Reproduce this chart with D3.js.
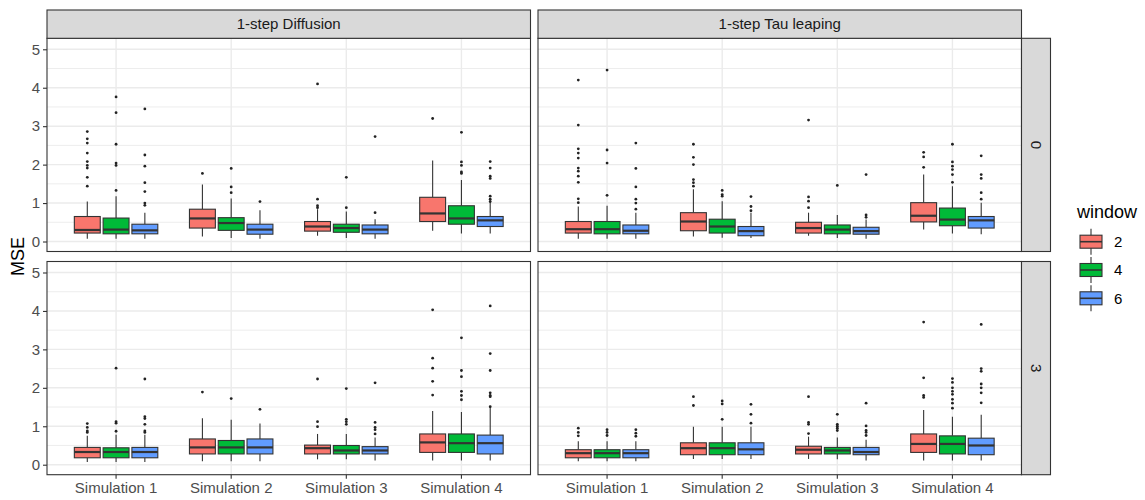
<!DOCTYPE html>
<html>
<head>
<meta charset="utf-8">
<script src="https://cdn.jsdelivr.net/npm/d3@7"></script>
<style>
  body { margin: 0; background: #fff; }
  text { font-family: "Liberation Sans", Arial, sans-serif; }
</style>
</head>
<body>
<script>
var simulations = ["Simulation 1", "Simulation 2", "Simulation 3", "Simulation 4"];
var windows = ["2", "4", "6"];
var methods = ["1-step Diffusion", "1-step Tau leaping"];
var lags = ["0", "3"];
var yTicks = [0, 1, 2, 3, 4, 5];
var colors = ["#F8766D", "#00BA38", "#619CFF"];

// [lower whisker, q1, median, q3, upper whisker], ordered sim1 w2, w4, w6, sim2 w2 ...
var diffusion0Box = [
  [0.07, 0.22, 0.30, 0.65, 1.04], [0.07, 0.20, 0.31, 0.61, 1.18], [0.07, 0.20, 0.29, 0.45, 0.75],
  [0.13, 0.35, 0.60, 0.84, 1.48], [0.09, 0.29, 0.48, 0.62, 1.12], [0.07, 0.19, 0.31, 0.45, 0.81],
  [0.15, 0.27, 0.39, 0.52, 0.84], [0.09, 0.24, 0.35, 0.45, 0.78], [0.07, 0.20, 0.31, 0.43, 0.58],
  [0.28, 0.52, 0.73, 1.15, 2.11], [0.21, 0.45, 0.60, 0.93, 1.60], [0.21, 0.39, 0.55, 0.65, 1.11]
];
var diffusion0Out = [
  [2.86, 2.67, 2.56, 2.30, 2.08, 1.98, 1.91, 1.67, 1.44],
  [3.76, 3.35, 2.53, 2.04, 1.98, 1.33],
  [3.45, 2.25, 1.96, 1.53, 1.30, 1.00, 0.94],
  [1.77],
  [1.90, 1.42, 1.27],
  [1.04],
  [4.10, 1.10, 0.93, 0.88],
  [1.67, 0.88],
  [2.73, 0.75],
  [3.20],
  [2.84, 2.07, 1.98, 1.81, 1.77],
  [2.08, 1.91, 1.70, 1.64, 1.18, 1.10, 1.04]
];
var tau0Box = [
  [0.07, 0.22, 0.32, 0.52, 0.91], [0.07, 0.20, 0.32, 0.52, 0.93], [0.07, 0.20, 0.28, 0.43, 0.75],
  [0.13, 0.28, 0.52, 0.75, 1.36], [0.10, 0.22, 0.39, 0.58, 1.05], [0.09, 0.15, 0.27, 0.39, 0.75],
  [0.15, 0.22, 0.35, 0.50, 0.75], [0.09, 0.20, 0.31, 0.43, 0.69], [0.07, 0.19, 0.27, 0.37, 0.57],
  [0.31, 0.51, 0.67, 1.01, 1.74], [0.21, 0.41, 0.57, 0.87, 1.44], [0.19, 0.35, 0.55, 0.65, 1.01]
];
var tau0Out = [
  [4.20, 3.03, 2.41, 2.30, 2.17, 1.91, 1.83, 1.70, 1.54, 1.11, 1.01],
  [4.46, 2.38, 2.04, 1.20],
  [2.56, 1.90, 1.42, 1.10, 1.00, 0.84],
  [2.53, 2.19, 2.00, 1.61, 1.53, 1.44],
  [1.33, 1.22, 1.18],
  [1.17, 0.91, 0.80],
  [3.16, 1.16, 1.05, 0.88],
  [1.46],
  [1.74, 0.69, 0.63],
  [2.32, 2.20, 1.93],
  [2.53, 2.07, 1.96, 1.87, 1.74, 1.54],
  [2.23, 1.74, 1.64, 1.27, 1.10]
];
var diffusion3Box = [
  [0.07, 0.18, 0.33, 0.45, 0.75], [0.07, 0.18, 0.33, 0.44, 0.78], [0.07, 0.18, 0.33, 0.45, 0.78],
  [0.09, 0.28, 0.45, 0.67, 1.21], [0.09, 0.28, 0.45, 0.63, 1.17], [0.09, 0.28, 0.45, 0.67, 1.07],
  [0.14, 0.28, 0.43, 0.51, 0.80], [0.14, 0.28, 0.37, 0.50, 0.80], [0.11, 0.28, 0.37, 0.47, 0.71],
  [0.11, 0.32, 0.58, 0.80, 1.40], [0.11, 0.32, 0.56, 0.80, 1.37], [0.11, 0.28, 0.56, 0.77, 1.51]
];
var diffusion3Out = [
  [1.07, 0.97, 0.88, 0.84],
  [2.51, 1.12, 1.08, 0.87],
  [2.23, 1.25, 1.20, 1.05, 0.88, 0.84],
  [1.89],
  [1.72],
  [1.44],
  [2.23, 1.12, 0.99],
  [1.98, 1.18, 1.12, 1.05],
  [2.13, 1.10, 0.97, 0.91, 0.80],
  [4.03, 2.77, 2.51, 2.17, 1.81],
  [3.30, 2.45, 2.29, 1.91, 1.80, 1.69],
  [4.13, 2.89, 2.45, 1.87, 1.80, 1.77, 1.51]
];
var tau3Box = [
  [0.09, 0.18, 0.30, 0.39, 0.61], [0.09, 0.18, 0.30, 0.39, 0.61], [0.09, 0.18, 0.30, 0.39, 0.61],
  [0.15, 0.26, 0.43, 0.57, 0.99], [0.15, 0.26, 0.43, 0.57, 0.99], [0.15, 0.26, 0.40, 0.57, 0.99],
  [0.15, 0.28, 0.39, 0.48, 0.73], [0.14, 0.28, 0.37, 0.45, 0.71], [0.11, 0.26, 0.33, 0.45, 0.65],
  [0.11, 0.32, 0.54, 0.80, 1.42], [0.11, 0.28, 0.54, 0.75, 1.25], [0.11, 0.26, 0.50, 0.69, 1.30]
];
var tau3Out = [
  [0.95, 0.84, 0.75],
  [0.91, 0.84, 0.76],
  [0.91, 0.82, 0.74],
  [1.77, 1.54],
  [1.66, 1.58, 1.18],
  [1.57, 1.31, 1.08],
  [1.77, 1.10, 1.05, 0.81],
  [1.31, 1.05, 1.00, 0.95, 0.89],
  [1.60, 1.01, 0.89, 0.84, 0.76],
  [3.71, 2.26, 1.80, 1.75],
  [2.24, 2.14, 2.00, 1.91, 1.83, 1.70, 1.60, 1.47],
  [3.65, 2.50, 2.43, 2.10, 2.00, 1.87, 1.61]
];

var panels = [
  {col: 0, row: 0, box: diffusion0Box, out: diffusion0Out},
  {col: 1, row: 0, box: tau0Box, out: tau0Out},
  {col: 0, row: 1, box: diffusion3Box, out: diffusion3Out},
  {col: 1, row: 1, box: tau3Box, out: tau3Out}
];

var W = 1145, H = 500;
var panelX = [47, 538], panelW = 483.5;
var panelY = [38.3, 261.5], panelH = 213.2;
var stripTop = 10, stripH = 28.3, stripW = 29;
var frame = "#333333", grid = "#EBEBEB";
var smallFont = "15px";

var svg = d3.select("body").append("svg")
    .attr("width", W)
    .attr("height", H);

var x = d3.scaleBand()
    .domain(simulations)
    .range([0, panelW])
    .paddingInner(0)
    .paddingOuter(0.1);

var xw = d3.scaleBand()
    .domain(windows)
    .range([-0.375 * x.step(), 0.375 * x.step()]);

var y = d3.scaleLinear()
    .domain([-0.26, 5.286])
    .range([panelH, 0]);

var boxW = xw.bandwidth() * 0.9;

panels.forEach(function(p) {
  var g = svg.append("g")
      .attr("transform", "translate(" + panelX[p.col] + "," + panelY[p.row] + ")");

  g.append("rect")
      .attr("width", panelW)
      .attr("height", panelH)
      .attr("fill", "#fff");

  // minor grid
  g.selectAll(".minor")
      .data([0.5, 1.5, 2.5, 3.5, 4.5])
      .enter().append("line")
      .attr("x1", 0).attr("x2", panelW)
      .attr("y1", function(d) { return y(d); })
      .attr("y2", function(d) { return y(d); })
      .attr("stroke", grid)
      .attr("stroke-width", 0.9);

  // major grid
  g.selectAll(".hmajor")
      .data(yTicks)
      .enter().append("line")
      .attr("x1", 0).attr("x2", panelW)
      .attr("y1", function(d) { return y(d); })
      .attr("y2", function(d) { return y(d); })
      .attr("stroke", grid)
      .attr("stroke-width", 1.4);

  g.selectAll(".vmajor")
      .data(simulations)
      .enter().append("line")
      .attr("x1", function(d) { return x(d) + x.bandwidth() / 2; })
      .attr("x2", function(d) { return x(d) + x.bandwidth() / 2; })
      .attr("y1", 0).attr("y2", panelH)
      .attr("stroke", grid)
      .attr("stroke-width", 1.4);

  var items = [];
  simulations.forEach(function(s, si) {
    windows.forEach(function(w, wi) {
      var k = si * 3 + wi;
      var b = p.box[k];
      items.push({
        cx: x(s) + x.bandwidth() / 2 + xw(w) + xw.bandwidth() / 2,
        lo: b[0], q1: b[1], med: b[2], q3: b[3], hi: b[4],
        out: p.out[k], color: colors[wi]
      });
    });
  });

  var bx = g.selectAll(".box")
      .data(items)
      .enter().append("g");

  bx.append("line")
      .attr("x1", function(d) { return d.cx; })
      .attr("x2", function(d) { return d.cx; })
      .attr("y1", function(d) { return y(d.q3); })
      .attr("y2", function(d) { return y(d.hi); })
      .attr("stroke", frame).attr("stroke-width", 1.1);

  bx.append("line")
      .attr("x1", function(d) { return d.cx; })
      .attr("x2", function(d) { return d.cx; })
      .attr("y1", function(d) { return y(d.q1); })
      .attr("y2", function(d) { return y(d.lo); })
      .attr("stroke", frame).attr("stroke-width", 1.1);

  bx.append("rect")
      .attr("x", function(d) { return d.cx - boxW / 2; })
      .attr("y", function(d) { return y(d.q3); })
      .attr("width", boxW)
      .attr("height", function(d) { return y(d.q1) - y(d.q3); })
      .attr("fill", function(d) { return d.color; })
      .attr("stroke", frame)
      .attr("stroke-width", 1.1);

  bx.append("line")
      .attr("x1", function(d) { return d.cx - boxW / 2; })
      .attr("x2", function(d) { return d.cx + boxW / 2; })
      .attr("y1", function(d) { return y(d.med); })
      .attr("y2", function(d) { return y(d.med); })
      .attr("stroke", frame).attr("stroke-width", 2.2);

  bx.each(function(d) {
    d3.select(this).selectAll("circle")
        .data(d.out)
        .enter().append("circle")
        .attr("cx", d.cx)
        .attr("cy", function(v) { return y(v); })
        .attr("r", 1.4)
        .attr("fill", "#222");
  });

  g.append("rect")
      .attr("width", panelW)
      .attr("height", panelH)
      .attr("fill", "none")
      .attr("stroke", frame)
      .attr("stroke-width", 1.1);

  // left axis
  if (p.col === 0) {
    var ya = g.append("g").call(d3.axisLeft(y).tickValues(yTicks).tickSize(4).tickPadding(3).tickFormat(d3.format("d")));
    ya.select(".domain").remove();
    ya.selectAll("line").attr("stroke", frame).attr("stroke-width", 1.1);
    ya.selectAll("text").attr("fill", "#4D4D4D").style("font-size", smallFont)
        .style("font-family", "'Liberation Sans', Arial, sans-serif");
  }

  // bottom axis
  if (p.row === 1) {
    var xa = g.append("g")
        .attr("transform", "translate(0," + panelH + ")")
        .call(d3.axisBottom(x).tickSize(4).tickPadding(4));
    xa.select(".domain").remove();
    xa.selectAll("line").attr("stroke", frame).attr("stroke-width", 1.1);
    xa.selectAll("text").attr("fill", "#4D4D4D").style("font-size", smallFont)
        .style("font-family", "'Liberation Sans', Arial, sans-serif");
  }

  // top strip
  if (p.row === 0) {
    var st = svg.append("g")
        .attr("transform", "translate(" + panelX[p.col] + "," + stripTop + ")");
    st.append("rect")
        .attr("width", panelW).attr("height", stripH)
        .attr("fill", "#D9D9D9").attr("stroke", frame).attr("stroke-width", 1.1);
    st.append("text")
        .attr("x", panelW / 2).attr("y", stripH / 2)
        .attr("dy", "0.35em")
        .attr("text-anchor", "middle")
        .attr("fill", "#1A1A1A")
        .style("font-size", smallFont)
        .text(methods[p.col]);
  }

  // right strip
  if (p.col === 1) {
    var rs = svg.append("g")
        .attr("transform", "translate(" + (panelX[1] + panelW) + "," + panelY[p.row] + ")");
    rs.append("rect")
        .attr("width", stripW).attr("height", panelH)
        .attr("fill", "#D9D9D9").attr("stroke", frame).attr("stroke-width", 1.1);
    rs.append("text")
        .attr("transform", "translate(" + stripW / 2 + "," + panelH / 2 + ") rotate(90)")
        .attr("dy", "0.35em")
        .attr("text-anchor", "middle")
        .attr("fill", "#1A1A1A")
        .style("font-size", smallFont)
        .text(lags[p.row]);
  }
});

// y title
svg.append("text")
    .attr("transform", "translate(18," + ((panelY[0] + panelY[1] + panelH) / 2) + ") rotate(-90)")
    .attr("dy", "0.35em")
    .attr("text-anchor", "middle")
    .attr("fill", "#000")
    .style("font-size", "18px")
    .text("MSE");

// legend
var lg = svg.append("g").attr("transform", "translate(1077,0)");
lg.append("text")
    .attr("x", 0).attr("y", 218)
    .attr("fill", "#000")
    .style("font-size", "18px")
    .text("window");

var keys = lg.selectAll(".key")
    .data(windows)
    .enter().append("g")
    .attr("transform", function(d, i) { return "translate(0," + (241.7 + i * 28.3) + ")"; });

keys.append("line")
    .attr("x1", 14).attr("x2", 14)
    .attr("y1", -13).attr("y2", 13)
    .attr("stroke", frame).attr("stroke-width", 1.1);

keys.append("rect")
    .attr("x", 3).attr("y", -6.5)
    .attr("width", 22).attr("height", 13)
    .attr("fill", function(d, i) { return colors[i]; })
    .attr("stroke", frame).attr("stroke-width", 1.1);

keys.append("line")
    .attr("x1", 3).attr("x2", 25)
    .attr("y1", 0).attr("y2", 0)
    .attr("stroke", frame).attr("stroke-width", 1.6);

keys.append("text")
    .attr("x", 37).attr("y", 0)
    .attr("dy", "0.35em")
    .attr("fill", "#000")
    .style("font-size", "15px")
    .text(function(d) { return d; });
</script>
</body>
</html>
